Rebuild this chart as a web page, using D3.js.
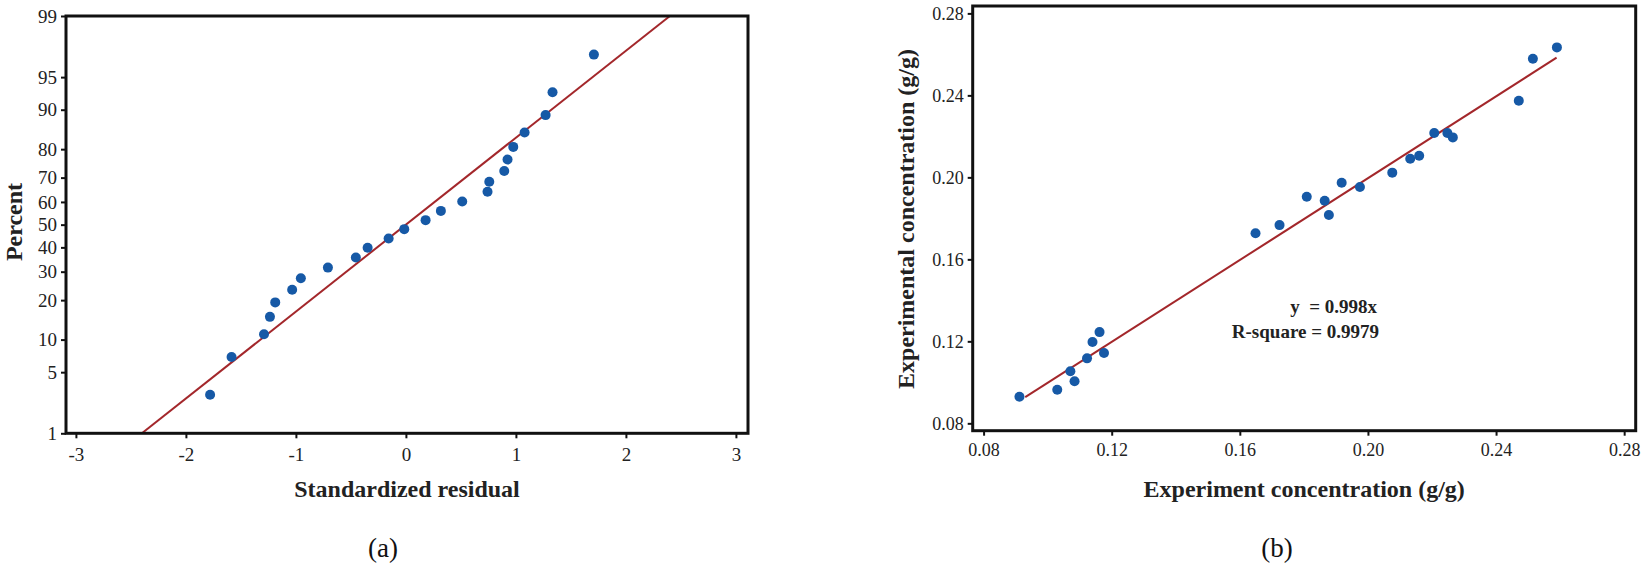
<!DOCTYPE html>
<html>
<head>
<meta charset="utf-8">
<script src="https://cdn.jsdelivr.net/npm/d3@7"></script>
<style>
  html, body { margin: 0; padding: 0; background: #fff; }
  svg { display: block; }
  text { font-family: "Liberation Serif", "Times New Roman", serif; }
</style>
</head>
<body>
<svg id="chart" width="1641" height="572"></svg>
<script>
// ---------- Data: panel (a) normal probability plot ----------
const residuals = [-1.78, -1.585, -1.29, -1.236, -1.188, -1.034, -0.955, -0.709, -0.455, -0.348, -0.157, -0.015,
                   0.179, 0.318, 0.512, 0.742, 0.758, 0.894, 0.924, 0.976, 1.079, 1.27, 1.333, 1.709];
const percents  = [2.9, 7.0, 11.1, 15.2, 19.3, 23.4, 27.5, 31.6, 35.7, 39.8, 43.9, 48.0,
                   52.0, 56.1, 60.2, 64.3, 68.4, 72.5, 76.6, 80.7, 84.8, 88.9, 93.0, 97.1];
const fitResidual = [-2.4, 2.4];
const fitPercent  = [1, 99];
const residualTicks = [-3, -2, -1, 0, 1, 2, 3];
const percentTicks  = [1, 5, 10, 20, 30, 40, 50, 60, 70, 80, 90, 95, 99];

// ---------- Data: panel (b) experimental vs experiment ----------
const expX = [0.0912, 0.1030, 0.1071, 0.1084, 0.1123, 0.1140, 0.1162, 0.1176, 0.1649, 0.1724, 0.1809, 0.1865,
              0.1878, 0.1918, 0.1975, 0.2076, 0.2132, 0.2160, 0.2207, 0.2248, 0.2265, 0.2471, 0.2515, 0.2590];
const expY = [0.0930, 0.0964, 0.1054, 0.1005, 0.1117, 0.1197, 0.1245, 0.1143, 0.1727, 0.1767, 0.1905, 0.1886,
              0.1816, 0.1974, 0.1953, 0.2023, 0.2091, 0.2105, 0.2216, 0.2216, 0.2195, 0.2374, 0.2579, 0.2634];
const fitSlope = 0.998;
const fitXRange = [0.093, 0.2589];
const concTicks = [0.08, 0.12, 0.16, 0.20, 0.24, 0.28];
const eqLines = ["y  = 0.998x", "R-square = 0.9979"];

// ---------- Helpers ----------
// inverse standard normal CDF (Acklam) for the probability axis
function probit(p) {
  const a = [-3.969683028665376e+01, 2.209460984245205e+02, -2.759285104469687e+02, 1.383577518672690e+02, -3.066479806614716e+01, 2.506628277459239e+00];
  const b = [-5.447609879822406e+01, 1.615858368580409e+02, -1.556989798598866e+02, 6.680131188771972e+01, -1.328068155288572e+01];
  const c = [-7.784894002430293e-03, -3.223964580411365e-01, -2.400758277161838e+00, -2.549671830231800e+00, 4.374664141464968e+00, 2.938163982698783e+00];
  const d = [7.784695709041462e-03, 3.224671290700398e-01, 2.445134137142996e+00, 3.754408661907416e+00];
  const pl = 0.02425, ph = 1 - pl;
  let q, r;
  if (p < pl) { q = Math.sqrt(-2 * Math.log(p));
    return (((((c[0]*q+c[1])*q+c[2])*q+c[3])*q+c[4])*q+c[5]) / ((((d[0]*q+d[1])*q+d[2])*q+d[3])*q+1); }
  if (p <= ph) { q = p - 0.5; r = q*q;
    return (((((a[0]*r+a[1])*r+a[2])*r+a[3])*r+a[4])*r+a[5])*q / (((((b[0]*r+b[1])*r+b[2])*r+b[3])*r+b[4])*r+1); }
  q = Math.sqrt(-2 * Math.log(1 - p));
  return -(((((c[0]*q+c[1])*q+c[2])*q+c[3])*q+c[4])*q+c[5]) / ((((d[0]*q+d[1])*q+d[2])*q+d[3])*q+1);
}

const svg = d3.select("#chart");
const pointColor = "#1659a6";
const lineColor = "#a3272b";

function styleAxis(g, fontSize) {
  g.select(".domain").remove();
  g.selectAll(".tick line").attr("stroke", "#111").attr("stroke-width", 2);
  g.selectAll(".tick text").attr("fill", "#222").attr("font-size", fontSize)
    .style("font-family", '"Liberation Serif", "Times New Roman", serif');
}

// ================= Panel (a) =================
{
  const L = 66, R = 748, T = 16, B = 433.3;
  const zTop = probit(0.99);
  const x = d3.scaleLinear().domain([-3.09, 3.11]).range([L, R]);
  const yz = d3.scaleLinear().domain([-zTop, zTop]).range([B, T]);
  const y = p => yz(probit(p / 100));

  const g = svg.append("g");

  // fit line
  g.append("line")
    .attr("x1", x(fitResidual[0])).attr("y1", y(fitPercent[0]))
    .attr("x2", x(fitResidual[1])).attr("y2", y(fitPercent[1]))
    .attr("stroke", lineColor).attr("stroke-width", 2);

  // points
  g.selectAll("circle.pa").data(residuals).join("circle")
    .attr("class", "pa")
    .attr("cx", d => x(d))
    .attr("cy", (d, i) => y(percents[i]))
    .attr("r", 5).attr("fill", pointColor);

  // frame
  g.append("rect").attr("x", L).attr("y", T).attr("width", R - L).attr("height", B - T)
    .attr("fill", "none").attr("stroke", "#111").attr("stroke-width", 3);

  // axes
  const yScaleForAxis = d3.scaleLinear().domain([-zTop, zTop]).range([B, T]);
  const yAxis = d3.axisLeft(yScaleForAxis)
    .tickValues(percentTicks.map(p => probit(p / 100)))
    .tickFormat((d, i) => percentTicks[i])
    .tickSize(5).tickPadding(4);
  g.append("g").attr("transform", `translate(${L},0)`).call(yAxis).call(s => styleAxis(s, 19));

  const xAxis = d3.axisBottom(x).tickValues(residualTicks).tickFormat(d3.format("d"))
    .tickSize(5).tickPadding(9);
  g.append("g").attr("transform", `translate(0,${B})`).call(xAxis).call(s => styleAxis(s, 19));
  g.selectAll(".tick text").filter(function(){ return this.textContent.startsWith("−"); })
    .text(function(){ return this.textContent.replace("−", "-"); });

  // titles
  g.append("text").attr("x", (L + R) / 2).attr("y", 497)
    .attr("text-anchor", "middle").attr("font-weight", "bold").attr("font-size", 24).attr("fill", "#222")
    .text("Standardized residual");
  g.append("text").attr("transform", `translate(22,222) rotate(-90)`)
    .attr("text-anchor", "middle").attr("font-weight", "bold").attr("font-size", 24).attr("fill", "#222")
    .text("Percent");
  g.append("text").attr("x", 383).attr("y", 557)
    .attr("text-anchor", "middle").attr("font-size", 27).attr("fill", "#111")
    .text("(a)");
}

// ================= Panel (b) =================
{
  const L = 972.7, R = 1635.7, T = 6, B = 430.7;
  const x = d3.scaleLinear().domain([0.0766, 0.2836]).range([L, R]);
  const y = d3.scaleLinear().domain([0.0764, 0.2836]).range([B, T]);

  const g = svg.append("g");

  g.append("line")
    .attr("x1", x(fitXRange[0])).attr("y1", y(fitSlope * fitXRange[0]))
    .attr("x2", x(fitXRange[1])).attr("y2", y(fitSlope * fitXRange[1]))
    .attr("stroke", lineColor).attr("stroke-width", 2);

  g.selectAll("circle.pb").data(expX).join("circle")
    .attr("class", "pb")
    .attr("cx", d => x(d))
    .attr("cy", (d, i) => y(expY[i]))
    .attr("r", 5).attr("fill", pointColor);

  g.append("rect").attr("x", L).attr("y", T).attr("width", R - L).attr("height", B - T)
    .attr("fill", "none").attr("stroke", "#111").attr("stroke-width", 3);

  const yAxis = d3.axisLeft(y).tickValues(concTicks).tickFormat(d3.format(".2f"))
    .tickSize(5).tickPadding(4);
  g.append("g").attr("transform", `translate(${L},0)`).call(yAxis).call(s => styleAxis(s, 18));

  const xAxis = d3.axisBottom(x).tickValues(concTicks).tickFormat(d3.format(".2f"))
    .tickSize(5).tickPadding(8);
  g.append("g").attr("transform", `translate(0,${B})`).call(xAxis).call(s => styleAxis(s, 18));

  // equation text
  eqLines.forEach((t, i) => {
    g.append("text").attr("x", i === 0 ? 1377 : 1379).attr("y", i === 0 ? 313 : 338)
      .attr("text-anchor", "end").attr("font-weight", "bold").attr("font-size", 19).attr("fill", "#222")
      .style("white-space", "pre")
      .text(t);
  });

  g.append("text").attr("x", (L + R) / 2).attr("y", 497)
    .attr("text-anchor", "middle").attr("font-weight", "bold").attr("font-size", 24).attr("fill", "#222")
    .text("Experiment concentration (g/g)");
  g.append("text").attr("transform", `translate(914,219) rotate(-90)`)
    .attr("text-anchor", "middle").attr("font-weight", "bold").attr("font-size", 24).attr("fill", "#222")
    .text("Experimental concentration (g/g)");
  g.append("text").attr("x", 1277).attr("y", 557)
    .attr("text-anchor", "middle").attr("font-size", 27).attr("fill", "#111")
    .text("(b)");
}
</script>
</body>
</html>
